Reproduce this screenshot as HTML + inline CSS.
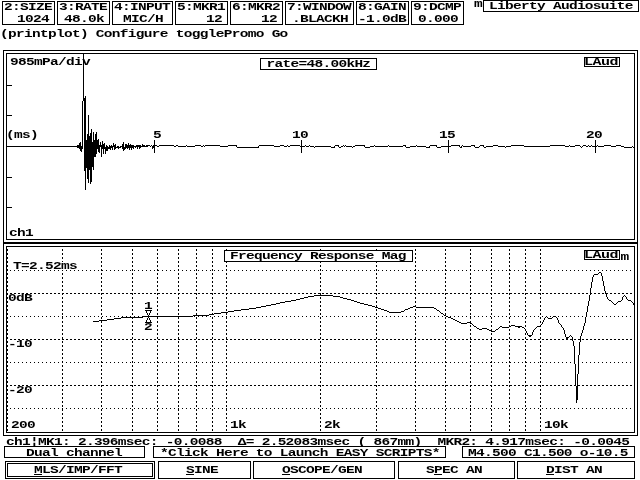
<!DOCTYPE html>
<html lang="en"><head><meta charset="utf-8"><title>Liberty Audiosuite</title>
<style>
html,body{margin:0;padding:0;background:#fff;overflow:hidden}
svg{display:block}
text{font-family:"Liberation Mono","DejaVu Sans Mono",monospace;font-weight:bold;font-size:10px;letter-spacing:-0.4828px;fill:#000;white-space:pre}
rect,path{fill:none;stroke:#000;stroke-width:1;shape-rendering:crispEdges}
.wb{fill:#fff}
.bg{fill:#fff;stroke:none}
.dh{stroke-dasharray:1 3}
.dd{stroke-dasharray:2 2}
.dv{stroke-dasharray:2 2}
</style></head><body>
<svg width="640" height="480" viewBox="0 0 640 480">
<rect x="0" y="0" width="640" height="480" style="fill:#fff;stroke:none"/>
<!-- parameter boxes -->
<rect x="2.5" y="1.5" width="52" height="23"/>
<text transform="translate(4 10) scale(1.45 1)">2:SIZE</text>
<text transform="translate(17 22) scale(1.45 1)">1024</text>
<rect x="57.5" y="1.5" width="52" height="23"/>
<text transform="translate(59 10) scale(1.45 1)">3:RATE</text>
<text transform="translate(64 22) scale(1.45 1)">48.0k</text>
<rect x="112.5" y="1.5" width="60" height="23"/>
<text transform="translate(114 10) scale(1.45 1)">4:INPUT</text>
<text transform="translate(123 22) scale(1.45 1)">MIC/H</text>
<rect x="175.5" y="1.5" width="52" height="23"/>
<text transform="translate(177 10) scale(1.45 1)">5:MKR1</text>
<text transform="translate(206 22) scale(1.45 1)">12</text>
<rect x="230.5" y="1.5" width="52" height="23"/>
<text transform="translate(232 10) scale(1.45 1)">6:MKR2</text>
<text transform="translate(261 22) scale(1.45 1)">12</text>
<rect x="285.5" y="1.5" width="68" height="23"/>
<text transform="translate(287 10) scale(1.45 1)">7:WINDOW</text>
<text transform="translate(292 22) scale(1.45 1)">.BLACKH</text>
<rect x="356.5" y="1.5" width="52" height="23"/>
<text transform="translate(358 10) scale(1.45 1)">8:GAIN</text>
<text transform="translate(358 22) scale(1.45 1)">-1.0dB</text>
<rect x="411.5" y="1.5" width="52" height="23"/>
<text transform="translate(413 10) scale(1.45 1)">9:DCMP</text>
<text transform="translate(418 22) scale(1.45 1)">0.000</text>
<text transform="translate(474 7) scale(1.45 1)">m</text>
<rect x="483.5" y="0.5" width="155" height="11"/>
<text transform="translate(489 9) scale(1.45 1)">Liberty Audiosuite</text>
<!-- menu -->
<text transform="translate(0 37) scale(1.45 1)">(printplot) Configure togglePromo Go</text>
<!-- impulse response plot -->
<rect x="3.5" y="50.5" width="634" height="192"/>
<rect x="6.5" y="53.5" width="628" height="186"/>
<text transform="translate(10 65) scale(1.45 1)">985mPa/div</text>
<text transform="translate(6 138) scale(1.45 1)">(ms)</text>
<text transform="translate(9 236) scale(1.45 1)">ch1</text>
<path d="M6 85.5H12"/>
<path d="M6 115.5H12"/>
<path d="M6 177.5H12"/>
<path d="M6 207.5H12"/>
<path d="M154.5 140V153"/>
<text transform="translate(153 138) scale(1.45 1)">5</text>
<path d="M301.5 140V153"/>
<text transform="translate(292 138) scale(1.45 1)">10</text>
<path d="M448.5 140V153"/>
<text transform="translate(439 138) scale(1.45 1)">15</text>
<path d="M595.5 140V153"/>
<text transform="translate(586 138) scale(1.45 1)">20</text>
<path d="M83.5 53V101"/>
<rect x="260.5" y="58.5" width="116" height="11"/>
<text transform="translate(266.5 67) scale(1.45 1)">rate=48.00kHz</text>
<rect x="584.5" y="57.5" width="35" height="9"/>
<text transform="translate(584 65) scale(1.5 1)" style="letter-spacing:-0.3333px">LAud</text>
<path d="M6 146.5H77"/>
<path d="M84 98.5h2M84 99.5h2M84 100.5h2M84 101.5h2M84 102.5h2M84 103.5h2M84 104.5h2M84 105.5h2M84 106.5h2M84 107.5h2M84 108.5h2M84 109.5h2M84 110.5h2M84 111.5h2M84 112.5h2M84 113.5h2M84 114.5h2M84 115.5h2M84 116.5h2M84 117.5h2M84 118.5h2M84 119.5h2M84 120.5h2M84 121.5h2M84 122.5h2M84 123.5h2M84 124.5h2M84 125.5h2M84 126.5h2M84 127.5h2M84 128.5h2M84 129.5h2M84 130.5h2M84 131.5h2M84 132.5h2M84 133.5h2M90 133.5h2M84 134.5h2M87 134.5h2M90 134.5h2M95 134.5h2M84 135.5h2M87 135.5h2M90 135.5h2M95 135.5h2M84 136.5h2M87 136.5h5M95 136.5h2M84 137.5h2M87 137.5h5M95 137.5h2M84 138.5h2M87 138.5h5M95 138.5h2M84 139.5h2M87 139.5h5M95 139.5h2M84 140.5h8M93 140.5h6M84 141.5h8M93 141.5h6M84 142.5h15M79 143.5h2M84 143.5h15M79 144.5h2M84 144.5h15M102 144.5h3M122 144.5h2M125 144.5h2M77 145.5h4M84 145.5h21M113 145.5h3M122 145.5h2M125 145.5h9M136 145.5h5M142 145.5h3M146 145.5h4M77 146.5h6M84 146.5h21M106 146.5h2M109 146.5h7M117 146.5h2M120 146.5h4M125 146.5h23M152 146.5h2M77 147.5h6M84 147.5h16M101 147.5h12M114 147.5h7M122 147.5h12M139 147.5h2M152 147.5h2M79 148.5h4M84 148.5h16M101 148.5h10M114 148.5h2M122 148.5h4M80 149.5h2M84 149.5h13M98 149.5h2M105 149.5h3M123 149.5h2M80 150.5h2M84 150.5h13M98 150.5h2M105 150.5h3M84 151.5h13M98 151.5h2M84 152.5h13M84 153.5h13M84 154.5h12M84 155.5h12M84 156.5h12M84 157.5h10M84 158.5h10M84 159.5h10M84 160.5h10M84 161.5h10M84 162.5h10M84 163.5h10M84 164.5h10M84 165.5h10M84 166.5h10M84 167.5h8M84 168.5h2M87 168.5h5M84 169.5h2M87 169.5h5M84 170.5h2M87 170.5h2M90 170.5h2M87 171.5h2M90 171.5h2M87 172.5h2M90 172.5h2M87 173.5h2M90 173.5h2M87 174.5h2M90 174.5h2M87 175.5h2M90 175.5h2M87 176.5h2M90 176.5h2M87 177.5h2M90 177.5h2M87 178.5h2M90 178.5h2M90 179.5h2M90 180.5h2M90 181.5h2M80.5 142v1M81.5 151v1M82.5 101v45M85.5 96v2M85.5 171v19M88.5 115v19M88.5 179v4M90.5 182v2M91.5 129v4M93.5 132v8M93.5 167v3M96.5 132v2M98.5 139v1M99.5 152v1M100.5 142v3M101.5 149v8M102.5 141v3M103.5 149v5M104.5 143v1M105.5 151v3M106.5 145v1M109.5 145v1M110.5 149v1M111.5 145v1M112.5 148v2M113.5 143v2M114.5 149v1M115.5 144v1M118.5 148v1M123.5 142v2M123.5 150v1M127.5 148v1M128.5 143v2M129.5 148v2M130.5 144v1M131.5 148v2M133.5 148v1M135.5 147v1M137.5 147v2M139.5 148v1M142.5 144v1M150.5 146v1M151.5 145v1M152.5 148v1M153.5 145v1"/>
<path d="M155 145.5h2M159 145.5h15M176 145.5h2M195 145.5h6M205 145.5h15M228 145.5h9M259 145.5h15M280 145.5h4M290 145.5h10M335 145.5h4M355 145.5h10M403 145.5h3M430 145.5h7M451 145.5h9M471 145.5h4M480 145.5h4M493 145.5h5M511 145.5h13M550 145.5h15M575 145.5h5M583 145.5h3M604 145.5h7M616 145.5h5M157 146.5h2M174 146.5h2M178 146.5h8M187 146.5h8M201 146.5h2M220 146.5h8M274 146.5h6M284 146.5h3M288 146.5h2M300 146.5h5M306 146.5h3M310 146.5h4M315 146.5h16M341 146.5h2M346 146.5h6M353 146.5h2M370 146.5h4M375 146.5h13M389 146.5h14M410 146.5h6M417 146.5h9M441 146.5h10M463 146.5h8M486 146.5h7M498 146.5h7M506 146.5h5M524 146.5h26M565 146.5h4M570 146.5h5M586 146.5h2M589 146.5h2M592 146.5h5M598 146.5h6M611 146.5h5M621 146.5h3M237 147.5h22M331 147.5h4M339 147.5h2M365 147.5h5M406 147.5h4M426 147.5h4M437 147.5h4M460 147.5h2M475 147.5h4M484 147.5h2M624 147.5h8M186.5 145v1M203.5 145v1M204.5 146v1M236.5 146v1M258.5 146v1M287.5 145v1M305.5 145v1M309.5 145v1M314.5 147v1M334.5 146v1M338.5 146v1M343.5 145v1M344.5 146v1M345.5 145v1M352.5 147v1M364.5 146v1M374.5 145v1M388.5 145v1M405.5 146v1M416.5 145v1M429.5 146v1M436.5 146v1M459.5 146v1M461.5 146v1M462.5 145v1M474.5 146v1M479.5 146v1M483.5 146v1M505.5 147v1M569.5 145v1M580.5 146v1M581.5 147v1M582.5 146v1M588.5 145v1M591.5 145v1M597.5 145v1M632.5 146v1M633.5 147v1"/>
<!-- frequency response plot -->
<rect x="3.5" y="243.5" width="634" height="192"/>
<rect x="6.5" y="246.5" width="628" height="186"/>
<path class="dh" d="M10 270.5H633"/>
<path class="dd" d="M10 293.5H633"/>
<path class="dh" d="M10 316.5H633"/>
<path class="dd" d="M10 339.5H633"/>
<path class="dh" d="M10 362.5H633"/>
<path class="dd" d="M10 385.5H633"/>
<path class="dh" d="M10 408.5H633"/>
<path class="dv" d="M7.5 249V431M62.5 249V431M101.5 249V431M132.5 249V431M157.5 249V431M178.5 249V431M196.5 249V431M212.5 249V431M226.5 249V431M320.5 249V431M376.5 249V431M415.5 249V431M445.5 249V431M470.5 249V431M491.5 249V431M509.5 249V431M525.5 249V431M540.5 249V431"/>
<rect x="224.5" y="250.5" width="188" height="11" class="wb"/>
<text transform="translate(230 259) scale(1.45 1)">Frequency Response Mag</text>
<rect x="584.5" y="250.5" width="35" height="9" class="wb"/>
<text transform="translate(584 258) scale(1.5 1)" style="letter-spacing:-0.3333px">LAud</text>
<text transform="translate(620.5 260) scale(1.45 1)">m</text>
<rect class="bg" x="13" y="262" width="64" height="8"/>
<text transform="translate(13 269) scale(1.45 1)">T=2.52ms</text>
<rect class="bg" x="8" y="294" width="24" height="8"/>
<text transform="translate(8 301) scale(1.45 1)">0dB</text>
<rect class="bg" x="8" y="340" width="24" height="8"/>
<text transform="translate(8 347) scale(1.45 1)">-10</text>
<rect class="bg" x="8" y="386" width="24" height="8"/>
<text transform="translate(8 393) scale(1.45 1)">-20</text>
<rect class="bg" x="11" y="421" width="24" height="8"/>
<text transform="translate(11 428) scale(1.45 1)">200</text>
<rect class="bg" x="230" y="421" width="16" height="8"/>
<text transform="translate(230 428) scale(1.45 1)">1k</text>
<rect class="bg" x="324" y="421" width="16" height="8"/>
<text transform="translate(324 428) scale(1.45 1)">2k</text>
<rect class="bg" x="544" y="421" width="24" height="8"/>
<text transform="translate(544 428) scale(1.45 1)">10k</text>
<rect class="bg" x="144" y="302" width="8" height="8"/>
<text transform="translate(144 309) scale(1.45 1)">1</text>
<rect class="bg" x="144" y="323" width="8" height="8"/>
<text transform="translate(144 330) scale(1.45 1)">2</text>
<path d="M145 310.5h7M145 322.5h7M146.5 311v2M146.5 320v2M147.5 313v2M147.5 318v2M148.5 315v1M148.5 317v1M149.5 313v2M149.5 318v2M150.5 311v2M150.5 320v2"/>
<path d="M599 272.5h2M594 274.5h4M314 295.5h19M308 296.5h6M333 296.5h7M304 297.5h4M340 297.5h3M300 298.5h4M343 298.5h4M296 299.5h4M347 299.5h4M291 300.5h5M351 300.5h3M609 300.5h2M628 300.5h3M285 301.5h6M354 301.5h3M618 301.5h3M280 302.5h5M357 302.5h3M276 303.5h4M360 303.5h4M271 304.5h5M364 304.5h4M614 304.5h2M266 305.5h5M368 305.5h4M261 306.5h5M372 306.5h3M413 306.5h3M256 307.5h5M375 307.5h3M410 307.5h3M416 307.5h18M249 308.5h7M378 308.5h3M408 308.5h2M434 308.5h2M241 309.5h8M381 309.5h3M405 309.5h3M234 310.5h7M384 310.5h3M437 310.5h2M228 311.5h6M387 311.5h2M401 311.5h3M221 312.5h7M389 312.5h12M214 313.5h7M441 313.5h2M209 314.5h5M193 315.5h16M444 315.5h2M143 316.5h50M446 316.5h2M553 316.5h3M121 317.5h22M448 317.5h3M114 318.5h7M451 318.5h2M548 318.5h4M107 319.5h7M453 319.5h2M99 320.5h8M455 320.5h2M93 321.5h6M457 321.5h2M459 322.5h2M467 322.5h3M461 323.5h6M470 323.5h2M511 325.5h4M474 326.5h2M500 326.5h2M509 326.5h2M515 326.5h7M537 326.5h3M502 327.5h7M518 327.5h2M522 327.5h2M477 328.5h2M482 328.5h5M479 329.5h3M487 329.5h2M496 329.5h2M489 330.5h2M491 331.5h4M528 335.5h4M529 336.5h2M566 337.5h3M566 338.5h2M566 339.5h2M576 386.5h2M576 387.5h2M576 388.5h2M576 389.5h2M576 390.5h2M576 391.5h2M576 392.5h2M576 393.5h2M576 394.5h2M576 395.5h2M576 396.5h2M576 397.5h2M576 398.5h2M576 399.5h2M404.5 310v1M436.5 309v1M439.5 311v1M440.5 312v1M443.5 314v1M472.5 324v1M473.5 325v1M476.5 327v1M495.5 330v1M498.5 328v1M499.5 327v1M524.5 328v1M525.5 329v2M526.5 331v2M527.5 333v2M532.5 332v3M533.5 330v2M534.5 329v1M535.5 328v1M536.5 327v1M540.5 325v1M541.5 324v1M542.5 322v2M543.5 320v2M544.5 318v2M545.5 317v1M546.5 316v1M547.5 317v1M552.5 317v1M556.5 317v1M557.5 318v2M558.5 320v3M559.5 323v1M560.5 324v1M561.5 325v2M562.5 327v1M563.5 328v2M564.5 330v4M565.5 334v3M569.5 336v1M570.5 335v1M571.5 336v1M572.5 337v4M573.5 341v5M574.5 346v18M575.5 364v22M576.5 400v3M577.5 374v12M578.5 355v19M579.5 342v13M580.5 336v6M581.5 333v3M582.5 330v3M583.5 326v4M584.5 323v3M585.5 317v6M586.5 312v5M587.5 306v6M588.5 301v5M589.5 295v6M590.5 288v7M591.5 282v6M592.5 277v5M593.5 275v2M598.5 273v1M601.5 273v3M602.5 276v5M603.5 281v5M604.5 286v5M605.5 291v3M606.5 294v3M607.5 297v2M608.5 299v1M611.5 301v1M612.5 302v1M613.5 303v1M616.5 303v1M617.5 302v1M621.5 300v1M622.5 297v3M623.5 296v1M624.5 295v1M625.5 296v1M626.5 297v2M627.5 299v1M631.5 301v1M632.5 302v1M633.5 303v2"/>
<!-- status line -->
<text transform="translate(6 445) scale(1.45 1)" xml:space="preserve">ch1¦MK1: 2.396msec: -0.0088  Δ= 2.52083msec ( 867mm)  MKR2: 4.917msec: -0.0045</text>
<rect x="4.5" y="446.5" width="140" height="11"/>
<text transform="translate(26 456) scale(1.45 1)">Dual channel</text>
<rect x="153.5" y="446.5" width="292" height="11"/>
<text transform="translate(160 456) scale(1.45 1)">*Click Here to Launch EASY SCRIPTS*</text>
<rect x="462.5" y="446.5" width="172" height="11"/>
<text transform="translate(468 456) scale(1.45 1)">M4.500 C1.500 o-10.5</text>
<!-- mode buttons -->
<rect x="5.5" y="461.5" width="149" height="17"/>
<rect x="7.5" y="463.5" width="145" height="13"/>
<text transform="translate(34 473) scale(1.45 1)">MLS/IMP/FFT</text>
<path d="M34 474.5H42"/>
<rect x="158.5" y="461.5" width="92" height="17"/>
<text transform="translate(186 473) scale(1.45 1)">SINE</text>
<path d="M186 474.5H194"/>
<rect x="253.5" y="461.5" width="141" height="17"/>
<text transform="translate(282 473) scale(1.45 1)">OSCOPE/GEN</text>
<path d="M282 474.5H290"/>
<rect x="398.5" y="461.5" width="116" height="17"/>
<text transform="translate(426 473) scale(1.45 1)">SPEC AN</text>
<path d="M434 474.5H442"/>
<rect x="517.5" y="461.5" width="117" height="17"/>
<text transform="translate(546 473) scale(1.45 1)">DIST AN</text>
<path d="M546 474.5H554"/>
</svg>
</body></html>
